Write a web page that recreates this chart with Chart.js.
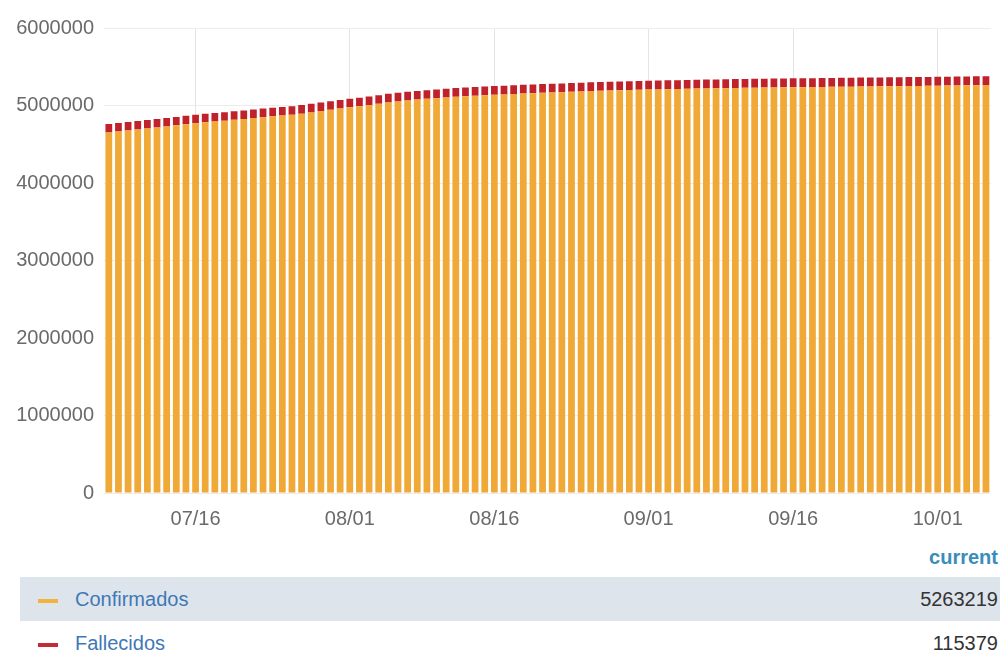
<!DOCTYPE html>
<html>
<head>
<meta charset="utf-8">
<script src="https://cdn.jsdelivr.net/npm/chart.js@4.4.1/dist/chart.umd.min.js"></script>
<style>
  body { margin: 0; background: #fff; font-family: "Liberation Sans", Arial, sans-serif; }
  #wrap { position: relative; width: 1000px; height: 659px; overflow: hidden; }
  #box { position: absolute; left: 0; top: 0; width: 1000px; height: 545px; }
  .cur { position: absolute; right: 2px; top: 546px; font-size: 20px; font-weight: bold; color: #3a8dbb; }
  .row { position: absolute; left: 20px; width: 980px; font-size: 20px; }
  .row .mark { position: absolute; left: 18px; width: 20px; height: 4px; }
  .row .name { position: absolute; left: 55px; color: #3f78b6; }
  .row .val { position: absolute; right: 2px; color: #333; }
</style>
</head>
<body>
<div id="wrap">
  <div id="box"><canvas id="covid"></canvas></div>
  <div class="cur">current</div>
  <div id="legend"></div>
</div>
<script>
const startDate = '2020-07-07';
const tickLabels = ['07/16', '08/01', '08/16', '09/01', '09/16', '10/01'];
const seriesNames = ['Confirmados', 'Fallecidos'];

const confirmados = [
  4652000, 4665000, 4678000, 4691000, 4704000, 4716000, 4730000, 4744000, 4758000, 4771000,
  4783000, 4794000, 4804000, 4815000, 4827000, 4839000, 4850000, 4861000, 4871000, 4880000,
  4895000, 4911000, 4928000, 4945000, 4961000,
  4976000, 4990000, 5004000, 5022000, 5040000, 5053000, 5065000, 5076000, 5086000, 5095000,
  5104000, 5112000, 5119000, 5126000, 5132000, 5138000, 5143000, 5149000, 5154000, 5159000,
  5164000, 5168000, 5172000, 5176000, 5181000, 5187000, 5190000, 5193000, 5196000, 5199000,
  5202000,
  5205000, 5208000, 5211000, 5213000, 5216000, 5218000, 5220000, 5222000, 5224000, 5226000,
  5228000, 5229000, 5231000, 5232000, 5234000, 5235500, 5237000, 5238000, 5239500, 5241000,
  5242000, 5243500, 5245000, 5246000, 5247500, 5249000, 5250000, 5251500, 5253000, 5254000,
  5255500, 5257000, 5258500, 5260000, 5261500, 5263219
];

const fallecidos = [
  108000, 108100, 108250, 108400, 108500, 108650, 108800, 108900, 109050, 109200,
  109300, 109450, 109600, 109700, 109850, 110000, 110100, 110250, 110400, 110500,
  110650, 110800, 110900, 111050, 111200,
  111300, 111400, 111500, 111600, 111700, 111800, 111900, 112000, 112100, 112200,
  112300, 112400, 112500, 112600, 112700, 112800, 112900, 113000, 113100, 113200,
  113300, 113350, 113450, 113550, 113650, 113700, 113800, 113850, 113950, 114000,
  114100,
  114150, 114200, 114250, 114300, 114350, 114400, 114450, 114500, 114550, 114600,
  114650, 114700, 114750, 114800, 114850, 114900, 114950, 114980, 115020, 115050,
  115080, 115110, 115140, 115170, 115200, 115220, 115240, 115260, 115280, 115300,
  115315, 115330, 115345, 115355, 115367, 115379
];

const barColors = ['#f0a836', '#c0222c'];
const markColors = ['#f2b23e', '#c62a38'];
const rowColors = ['#dee4ec', 'transparent'];

// day labels MM/DD for each bar
const days = confirmados.map((_, i) => {
  const d = new Date(startDate + 'T00:00:00Z');
  d.setUTCDate(d.getUTCDate() + i);
  return String(d.getUTCMonth() + 1).padStart(2, '0') + '/' + String(d.getUTCDate()).padStart(2, '0');
});

const tickFont = { family: '"Liberation Sans", Arial, sans-serif', size: 20 };

new Chart(document.getElementById('covid'), {
  type: 'bar',
  data: {
    labels: days,
    datasets: [
      { label: seriesNames[0], data: confirmados, backgroundColor: barColors[0] },
      { label: seriesNames[1], data: fallecidos, backgroundColor: barColors[1] }
    ]
  },
  options: {
    responsive: true,
    maintainAspectRatio: false,
    animation: false,
    layout: { padding: { left: 12, top: 28, right: 8 } },
    datasets: { bar: { barPercentage: 0.7, categoryPercentage: 1.0 } },
    plugins: { legend: { display: false }, tooltip: { enabled: false } },
    scales: {
      x: {
        stacked: true,
        afterFit: s => { s.height = 52; },
        grid: {
          offset: false,
          drawTicks: false,
          color: c => tickLabels.includes(days[c.index]) ? '#e4e4e4' : 'rgba(0,0,0,0)'
        },
        border: { display: false },
        ticks: {
          autoSkip: false,
          maxRotation: 0,
          padding: 14,
          color: '#6a6a6a',
          font: tickFont,
          callback: (v, i) => tickLabels.includes(days[i]) ? days[i] : ''
        }
      },
      y: {
        stacked: true,
        min: 0,
        max: 6000000,
        afterFit: s => { s.width = 92; },
        grid: { color: '#ececec', drawTicks: false },
        border: { display: false },
        ticks: { stepSize: 1000000, padding: 10, color: '#6a6a6a', font: tickFont, callback: v => String(v) }
      }
    }
  }
});

// legend table with current values
const legend = document.getElementById('legend');
const current = [confirmados[confirmados.length - 1], fallecidos[fallecidos.length - 1]];
const rowTops = [577, 621];
seriesNames.forEach((name, i) => {
  const row = document.createElement('div');
  row.className = 'row';
  row.style.top = rowTops[i] + 'px';
  row.style.height = '44px';
  row.style.lineHeight = '44px';
  row.style.background = rowColors[i];
  row.innerHTML = '<div class="mark" style="top:22px;background:' + markColors[i] + '"></div>' +
    '<div class="name">' + name + '</div><div class="val">' + current[i] + '</div>';
  legend.appendChild(row);
});
</script>
</body>
</html>
